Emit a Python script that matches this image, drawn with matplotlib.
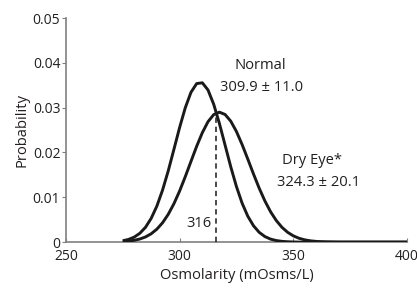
import matplotlib
matplotlib.use("Agg")
import matplotlib.pyplot as plt

plt.rcParams['font.family'] = ['Open Sans', 'DejaVu Sans']

osm = [275, 277.5, 280, 282.5, 285, 287.5, 290, 292.5, 295, 297.5, 300, 302.5,
       305, 307.5, 310, 312.5, 315, 317.5, 320, 322.5, 325, 327.5, 330, 332.5,
       335, 337.5, 340, 342.5, 345, 347.5, 350, 352.5, 355, 357.5, 360, 362.5,
       365, 370, 380, 390, 400]

normal_prob = [0.0003, 0.00059, 0.0011, 0.00196, 0.0033, 0.00529, 0.00803, 0.01159,
               0.01588, 0.02068, 0.02555, 0.02998, 0.03342, 0.03537, 0.03555, 0.03394,
               0.03076, 0.02649, 0.02165, 0.01681, 0.0124, 0.00868, 0.00577, 0.00365,
               0.00218, 0.00124, 0.00067, 0.00035, 0.00017, 0.00008, 0.00003, 0.0,
               0.0, 0.0, 0.0, 0.0, 0.0, 0.0, 0.0, 0.0, 0.0]

dry_prob = [0.00012, 0.00022, 0.0004, 0.00069, 0.00115, 0.00186, 0.00289, 0.00431,
            0.00619, 0.00856, 0.01139, 0.0146, 0.018, 0.02137, 0.02442, 0.02687,
            0.02845, 0.029, 0.02848, 0.02699, 0.02468, 0.02176, 0.01852, 0.0152,
            0.01204, 0.0092, 0.00678, 0.00483, 0.00331, 0.00219, 0.0014, 0.00086,
            0.00051, 0.00029, 0.00016, 0.00009, 0.00005, 0.0, 0.0, 0.0, 0.0]

cutoff = 316
cutoff_prob = 0.0288
x_ticks = [250, 300, 350, 400]
y_ticks = [0, 0.01, 0.02, 0.03, 0.04, 0.05]
y_tick_labels = ['0', '0.01', '0.02', '0.03', '0.04', '0.05']

fig = plt.figure(figsize=(4.17, 2.91), dpi=100)
ax = fig.add_axes([0.158, 0.168, 0.818, 0.770])

ax.plot(osm, normal_prob, color='#1a1a1a', lw=2.1, solid_capstyle='butt',
        solid_joinstyle='round')
ax.plot(osm, dry_prob, color='#1a1a1a', lw=2.1, solid_capstyle='butt',
        solid_joinstyle='round')
ax.plot([cutoff, cutoff], [0, cutoff_prob], color='#1a1a1a', lw=1.1,
        linestyle=(0, (3.5, 2.5)))

ax.set_xlim(250, 400)
ax.set_ylim(0, 0.05)
ax.set_xticks(x_ticks)
ax.set_xticklabels([str(t) for t in x_ticks])
ax.set_yticks(y_ticks)
ax.set_yticklabels(y_tick_labels)

for s in ['top', 'right']:
    ax.spines[s].set_visible(False)
for s in ['left', 'bottom']:
    ax.spines[s].set_color('#808080')
    ax.spines[s].set_linewidth(1.2)
ax.spines['bottom'].set_zorder(0)

ax.tick_params(axis='x', direction='in', length=3, color='#808080',
               labelsize=10, pad=5, labelcolor='#231f20')
ax.tick_params(axis='y', direction='out', length=3, color='#808080',
               labelsize=10, pad=1, labelcolor='#231f20')

ax.set_xlabel('Osmolarity (mOsms/L)', fontsize=10.6, color='#231f20', labelpad=3)
ax.set_ylabel('Probability', fontsize=10.6, color='#231f20', labelpad=2)

fs = 10.6
ax.text(335.3, 0.0393, 'Normal', fontsize=fs, ha='center', va='center', color='#231f20')
ax.text(336.2, 0.0346, '309.9 \u00b1 11.0', fontsize=fs, ha='center', va='center', color='#231f20')
ax.text(358.2, 0.0181, 'Dry Eye*', fontsize=fs, ha='center', va='center', color='#231f20')
ax.text(360.9, 0.0134, '324.3 \u00b1 20.1', fontsize=fs, ha='center', va='center', color='#231f20')
ax.text(314.2, 0.0042, '316', fontsize=fs, ha='right', va='center', color='#231f20')

fig.savefig('out.png', dpi=100)
